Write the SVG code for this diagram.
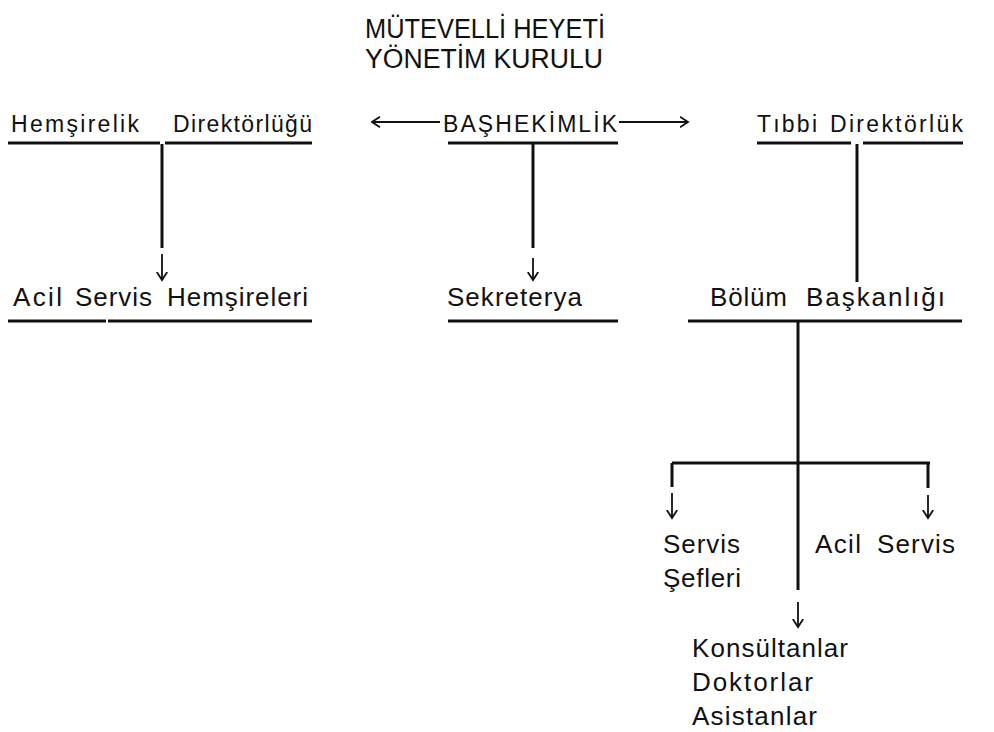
<svg xmlns="http://www.w3.org/2000/svg" width="994" height="732" viewBox="0 0 994 732">
<style>
text { font-family: "Liberation Sans", Arial, sans-serif; fill: #111; }
.title { font-size: 27px; }
.t1 { font-size: 23px; }
.t2 { font-size: 26px; }
.ul { stroke: #111; stroke-width: 3; fill: none; }
.ln { stroke: #111; stroke-width: 3; fill: none; }
.ar { stroke: #111; stroke-width: 1.8; fill: none; marker-end: url(#v); }
</style>
<defs>
<marker id="v" markerUnits="userSpaceOnUse" viewBox="0 0 10 12" markerWidth="10" markerHeight="12" refX="8.5" refY="6" orient="auto">
<path d="M0.5,0.8 L8.5,6 L0.5,11.2" fill="none" stroke="#111" stroke-width="1.8"/>
</marker>
</defs>
<rect width="994" height="732" fill="#fff"/>

<g id="mutevelli">
<text class="title" x="365" y="38" textLength="240" lengthAdjust="spacingAndGlyphs">MÜTEVELLİ HEYETİ</text>
<text class="title" x="365" y="68" textLength="238" lengthAdjust="spacingAndGlyphs">YÖNETİM KURULU</text>
</g>

<g id="hemsirelik">
<text class="t1" y="132"><tspan x="11" textLength="128">Hemşirelik</tspan> <tspan x="173" textLength="139">Direktörlüğü</tspan></text>
<line class="ul" x1="8" y1="143" x2="160" y2="143"/>
<line class="ul" x1="165" y1="143" x2="312" y2="143"/>
</g>

<g id="bashekimlik">
<text class="t1" x="443" y="132" textLength="174">BAŞHEKİMLİK</text>
<line class="ul" x1="448" y1="143" x2="618" y2="143"/>
</g>

<g id="tibbi">
<text class="t1" y="132"><tspan x="757" textLength="60">Tıbbi</tspan> <tspan x="830" textLength="133">Direktörlük</tspan></text>
<line class="ul" x1="757" y1="143" x2="851" y2="143"/>
<line class="ul" x1="863" y1="143" x2="963" y2="143"/>
</g>

<g id="acil-hemsireleri">
<text class="t2" y="306"><tspan x="13" textLength="49">Acil</tspan> <tspan x="75" textLength="77">Servis</tspan> <tspan x="167" textLength="141">Hemşireleri</tspan></text>
<line class="ul" x1="8" y1="321" x2="106" y2="321"/>
<line class="ul" x1="108" y1="321" x2="312" y2="321"/>
</g>

<g id="sekreterya">
<text class="t2" x="447" y="306" textLength="135">Sekreterya</text>
<line class="ul" x1="448" y1="321" x2="618" y2="321"/>
</g>

<g id="bolum">
<text class="t2" y="306"><tspan x="710" textLength="77">Bölüm</tspan> <tspan x="806" textLength="139">Başkanlığı</tspan></text>
<line class="ul" x1="688" y1="321" x2="962" y2="321"/>
</g>

<g id="servis-sefleri">
<text class="t2" x="663" y="553" textLength="77">Servis</text>
<text class="t2" x="663" y="587" textLength="78">Şefleri</text>
</g>

<g id="acil-servis">
<text class="t2" y="553"><tspan x="815" textLength="46">Acil</tspan> <tspan x="877" textLength="78">Servis</tspan></text>
</g>

<g id="konsultanlar">
<text class="t2" x="692" y="657" textLength="156">Konsültanlar</text>
<text class="t2" x="692" y="691" textLength="121">Doktorlar</text>
<text class="t2" x="692" y="725" textLength="125">Asistanlar</text>
</g>

<g id="connectors">
<line class="ar" x1="440" y1="122" x2="372" y2="122"/>
<line class="ar" x1="619" y1="122" x2="688" y2="122"/>
<line class="ln" x1="162" y1="144" x2="162" y2="248"/>
<line class="ar" x1="162" y1="254" x2="162" y2="280"/>
<line class="ln" x1="533" y1="144" x2="533" y2="248"/>
<line class="ar" x1="533" y1="258" x2="533" y2="280"/>
<line class="ln" x1="857" y1="144" x2="857" y2="282"/>
<line class="ln" x1="798" y1="322" x2="798" y2="590"/>
<line class="ar" x1="798" y1="602" x2="798" y2="627"/>
<line class="ln" x1="672" y1="463" x2="930" y2="463"/>
<line class="ln" x1="672" y1="463" x2="672" y2="487"/>
<line class="ar" x1="672" y1="493" x2="672" y2="518"/>
<line class="ln" x1="928" y1="463" x2="928" y2="488"/>
<line class="ar" x1="928" y1="495" x2="928" y2="518"/>
</g>
</svg>
